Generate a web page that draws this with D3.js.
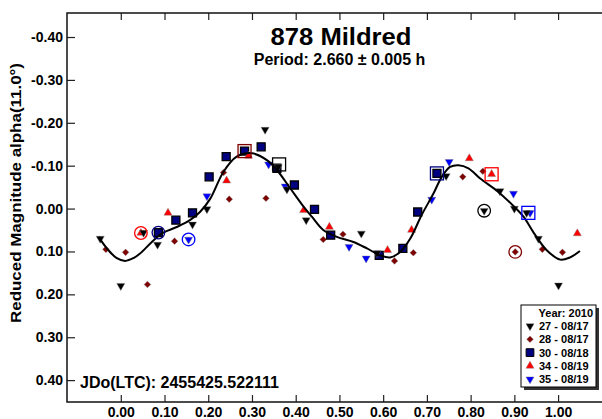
<!DOCTYPE html>
<html>
<head>
<meta charset="utf-8">
<script src="https://cdn.jsdelivr.net/npm/d3@7"></script>
<style>
  body { margin: 0; background: #fff; }
  svg text { font-family: "Liberation Sans", Arial, sans-serif; font-weight: bold; fill: #000; }
</style>
</head>
<body>
<div id="chart"></div>
<script>
// phase / reduced magnitude pairs for each session
const s27 = [[-0.047, 0.070], [0.000, 0.180], [0.052, 0.056], [0.084, 0.084], [0.164, 0.037],
  [0.197, 0.001], [0.330, -0.184], [0.360, -0.097], [0.380, -0.045], [0.424, 0.027],
  [0.550, 0.058], [0.586, 0.104], [0.744, -0.076], [0.831, 0.005], [0.867, -0.041],
  [0.900, 0.000], [0.928, 0.010], [0.955, 0.070], [1.001, 0.179]];
const s28 = [[-0.034, 0.095], [0.011, 0.102], [0.061, 0.177], [0.123, 0.076], [0.235, -0.084],
  [0.248, -0.022], [0.332, -0.024], [0.463, 0.072], [0.508, 0.060], [0.626, 0.122],
  [0.669, 0.103], [0.782, -0.074], [0.828, -0.087], [0.902, 0.101], [0.964, 0.095], [1.010, 0.102]];
const s30 = [[0.086, 0.056], [0.126, 0.027], [0.164, 0.010], [0.202, -0.074], [0.241, -0.121],
  [0.283, -0.134], [0.321, -0.144], [0.357, -0.094], [0.397, -0.055], [0.443, 0.002],
  [0.480, 0.062], [0.591, 0.109], [0.645, 0.093], [0.679, 0.008], [0.723, -0.082]];
const s34 = [[0.046, 0.057], [0.108, 0.010], [0.242, -0.065], [0.292, -0.123], [0.418, 0.004],
  [0.477, 0.043], [0.610, 0.097], [0.665, 0.050], [0.797, -0.117], [0.848, -0.080], [1.044, 0.058]];
const s35 = [[0.155, 0.072], [0.197, -0.029], [0.338, -0.103], [0.376, -0.052], [0.522, 0.089],
  [0.561, 0.116], [0.711, -0.021], [0.751, -0.109], [0.898, -0.035], [0.936, 0.010]];

// circled and boxed points (one of each per session)
const ringMarks = [[0.046, 0.057, "34"], [0.086, 0.056, "30"], [0.155, 0.072, "35"],
  [0.831, 0.005, "27"], [0.902, 0.101, "28"]];
const boxMarks = [[0.283, -0.134, "28"], [0.362, -0.103, "27"], [0.723, -0.082, "30"],
  [0.848, -0.080, "34"], [0.932, 0.010, "35"]];

// fourier fit curve
const curvePhase = [-0.051, -0.030, -0.010, 0.010, 0.030, 0.044, 0.071, 0.094, 0.128, 0.158, 0.181,
  0.204, 0.235, 0.265, 0.300, 0.334, 0.357, 0.387, 0.414, 0.437, 0.463, 0.494, 0.532, 0.563,
  0.593, 0.616, 0.639, 0.662, 0.688, 0.715, 0.734, 0.753, 0.772, 0.795, 0.822, 0.862, 0.898,
  0.921, 0.944, 0.974, 1.005, 1.027, 1.050];
const curveMag = [0.066, 0.095, 0.115, 0.122, 0.115, 0.105, 0.078, 0.058, 0.043, 0.027, 0.008,
  -0.022, -0.086, -0.121, -0.129, -0.113, -0.090, -0.048, -0.010, 0.019, 0.050, 0.066, 0.078, 0.093,
  0.109, 0.114, 0.101, 0.070, 0.015, -0.035, -0.074, -0.097, -0.101, -0.094, -0.070, -0.040, -0.006,
  0.019, 0.056, 0.097, 0.119, 0.114, 0.099];

const xTicks = [0.0, 0.1, 0.2, 0.3, 0.4, 0.5, 0.6, 0.7, 0.8, 0.9, 1.0];
const yTicks = [-0.4, -0.3, -0.2, -0.1, 0.0, 0.1, 0.2, 0.3, 0.4];
const seriesIds = ["27", "28", "30", "34", "35"];
const legendLabels = ["27 - 08/17", "28 - 08/17", "30 - 08/18", "34 - 08/19", "35 - 08/19"];

const style = {
  "27": {color: "#000000", shape: "down", data: s27},
  "28": {color: "#800000", shape: "diamond", data: s28},
  "30": {color: "#000080", shape: "square", data: s30},
  "34": {color: "#ff0000", shape: "up", data: s34},
  "35": {color: "#0000ff", shape: "down", data: s35}
};

const width = 602, height = 419;
const svg = d3.select("#chart").append("svg")
  .attr("width", width).attr("height", height);

const x = d3.scaleLinear().domain([-0.123, 1.105]).range([67, 604]);
const y = d3.scaleLinear().domain([-0.456, 0.451]).range([13, 402]);

// axes, ticks point inwards
const fmt = d => d.toFixed(2);
svg.append("g").attr("transform", "translate(0,402)")
  .call(d3.axisBottom(x).tickValues(xTicks).tickFormat(fmt).tickSize(-7).tickSizeOuter(0).tickPadding(5));
svg.append("g").attr("transform", "translate(0,13)")
  .call(d3.axisTop(x).tickValues(xTicks).tickFormat("").tickSize(-7).tickSizeOuter(0));
svg.append("g").attr("transform", "translate(67,0)")
  .call(d3.axisLeft(y).tickValues(yTicks).tickFormat(fmt).tickSize(-8).tickSizeOuter(0).tickPadding(4));

svg.selectAll(".domain").remove();
svg.selectAll(".tick line").attr("stroke", "#222").attr("stroke-width", 1.2);
svg.selectAll(".tick text").style("font-size", "14px").attr("fill", "#000");

// frame
svg.append("rect")
  .attr("x", x.range()[0]).attr("y", y.range()[0])
  .attr("width", x.range()[1] - x.range()[0])
  .attr("height", y.range()[1] - y.range()[0])
  .attr("fill", "none").attr("stroke", "#111").attr("stroke-width", 1.5);

function symbolPath(shape, big) {
  if (shape == "square") return d3.symbol(d3.symbolSquare, big ? 64 : 60)();
  if (shape == "diamond") return d3.symbol(d3.symbolSquare, 22)();
  return d3.symbol(d3.symbolTriangle, 28)();
}
function symbolRotate(shape) {
  if (shape == "down") return 180;
  if (shape == "diamond") return 45;
  return 0;
}

// points
const order = ["28", "30", "34", "35", "27"];
order.forEach(id => {
  const st = style[id];
  svg.append("g").selectAll("path")
    .data(st.data)
    .join("path")
    .attr("d", symbolPath(st.shape, true))
    .attr("transform", d => `translate(${x(d[0])},${y(d[1])}) rotate(${symbolRotate(st.shape)})`)
    .attr("fill", st.color)
    .attr("stroke", st.shape == "square" ? "#000" : "#777")
    .attr("stroke-width", st.shape == "square" ? 1.3 : 0.4);
});

// fit curve
const curveData = curvePhase.map((p, i) => [p, curveMag[i]]);
svg.append("path")
  .datum(curveData)
  .attr("d", d3.line().x(d => x(d[0])).y(d => y(d[1])).curve(d3.curveCatmullRom))
  .attr("fill", "none").attr("stroke", "#000").attr("stroke-width", 2);

// circled / boxed points
svg.append("g").selectAll("circle")
  .data(ringMarks)
  .join("circle")
  .attr("cx", d => x(d[0])).attr("cy", d => y(d[1])).attr("r", 6.3)
  .attr("fill", "none").attr("stroke", d => style[d[2]].color).attr("stroke-width", 1.3);
svg.append("g").selectAll("rect")
  .data(boxMarks)
  .join("rect")
  .attr("x", d => x(d[0]) - 6.5).attr("y", d => y(d[1]) - 6.5)
  .attr("width", 13).attr("height", 13)
  .attr("fill", "none").attr("stroke", d => style[d[2]].color).attr("stroke-width", 1.3);

// titles
svg.append("text").attr("x", 341).attr("y", 45).attr("text-anchor", "middle")
  .style("font-size", "24px")
  .attr("textLength", 141).attr("lengthAdjust", "spacingAndGlyphs")
  .text("878 Mildred");
svg.append("text").attr("x", 339.5).attr("y", 65).attr("text-anchor", "middle")
  .style("font-size", "16px").text("Period: 2.660 ± 0.005 h");
svg.append("text").attr("x", 80).attr("y", 388)
  .style("font-size", "16px").text("JDo(LTC): 2455425.522111");
svg.append("text")
  .attr("transform", "translate(21,193) rotate(-90)")
  .attr("text-anchor", "middle")
  .style("font-size", "14px")
  .attr("textLength", 260).attr("lengthAdjust", "spacingAndGlyphs")
  .text("Reduced Magnitude alpha(11.0°)");

// legend
const lg = svg.append("g").attr("transform", "translate(521,305)");
lg.append("rect").attr("x", 3).attr("y", 3).attr("width", 75).attr("height", 82).attr("fill", "#333");
lg.append("rect").attr("width", 75).attr("height", 82)
  .attr("fill", "#fff").attr("stroke", "#000").attr("stroke-width", 1);
lg.append("text").attr("x", 72).attr("y", 11.5).attr("text-anchor", "end")
  .style("font-size", "11px").text("Year: 2010");
seriesIds.forEach((id, i) => {
  const st = style[id];
  const ry = 21 + i * 13.3;
  lg.append("path")
    .attr("d", symbolPath(st.shape, false))
    .attr("transform", `translate(9,${ry}) rotate(${symbolRotate(st.shape)})`)
    .attr("fill", st.color)
    .attr("stroke", st.shape == "square" ? "#000" : "#777")
    .attr("stroke-width", st.shape == "square" ? 1 : 0.4);
  lg.append("text").attr("x", 18).attr("y", ry + 4)
    .style("font-size", "11px").text(legendLabels[i]);
});
</script>
</body>
</html>
